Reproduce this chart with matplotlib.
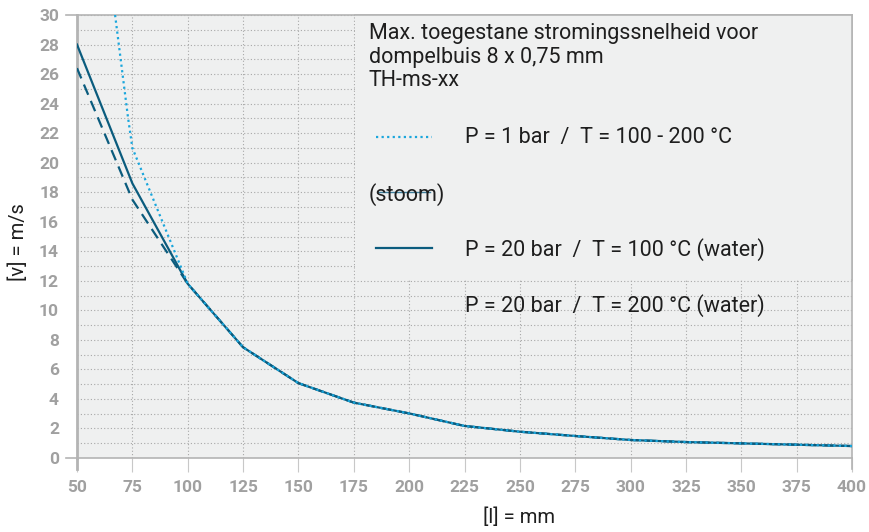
import matplotlib.pyplot as plt
from matplotlib.lines import Line2D
from matplotlib.patches import Rectangle

# lengte dompelbuis [mm]
lengte = [50, 75, 100, 125, 150, 175, 200, 225, 250, 275, 300, 325, 350, 375, 400]

# P = 20 bar / T = 100 °C (water)
v_water_100 = [28.0, 18.6, 11.8, 7.5, 5.07, 3.75, 3.02, 2.17, 1.78, 1.49, 1.22, 1.08, 0.99, 0.9, 0.81]

# P = 20 bar / T = 200 °C (water)
v_water_200 = [26.4, 17.5, 11.8, 7.5, 5.07, 3.75, 3.02, 2.17, 1.78, 1.49, 1.22, 1.08, 0.99, 0.9, 0.81]

# P = 1 bar / T = 100 - 200 °C (stoom)
lengte_stoom = [67.2, 73, 75, 100, 125, 150, 175, 200, 225, 250, 275, 300, 325, 350, 375, 400]
v_stoom = [30.0, 23.1, 21.0, 11.8, 7.5, 5.07, 3.75, 3.02, 2.17, 1.78, 1.49, 1.22, 1.08, 0.99, 0.9, 0.81]

titel = "Max. toegestane stromingssnelheid voor\ndompelbuis 8 x 0,75 mm\nTH-ms-xx"
labels = ["P = 1 bar  /  T = 100 - 200 °C",
          "P = 20 bar  /  T = 100 °C (water)",
          "P = 20 bar  /  T = 200 °C (water)"]

W, H = 870, 532
donker = "#0b5c7e"
licht = "#1aa6dc"
grijs = "#b4b4b4"
achtergrond = "#eff0f0"

plt.rcParams['font.family'] = ['Roboto', 'DejaVu Sans']

fig = plt.figure(figsize=(W / 100, H / 100), dpi=100)
ax = fig.add_axes([77 / W, (H - 458) / H, 775 / W, 443 / H])
ax.set_facecolor(achtergrond)

ax.plot(lengte, v_water_200, color=donker, lw=1.6, ls=(0, (5, 3)), zorder=3)
ax.plot(lengte, v_water_100, color=donker, lw=1.6, zorder=3)
ax.plot(lengte_stoom, v_stoom, color=licht, lw=1.6, ls=(0, (1, 1.5)), zorder=4)

ax.set_xlim(50, 400)
ax.set_ylim(0, 30)
ax.set_xticks(range(50, 401, 25))
ax.set_yticks(range(0, 31, 2))
ax.set_yticks(range(1, 30, 2), minor=True)
ax.grid(True, which='both', color='#a8a8a8', ls=(0, (1, 2)), lw=0.8)
ax.set_axisbelow(True)

for s in ['top', 'right', 'bottom', 'left']:
    ax.spines[s].set_color(grijs)
    ax.spines[s].set_linewidth(1.2)
ax.spines['left'].set_linewidth(2)

ax.tick_params(axis='x', length=10, width=0.8, color='#c8c8c8', pad=6,
               labelsize=12.5, labelcolor='#a0a0a0')
ax.tick_params(axis='y', which='both', length=0, pad=13,
               labelsize=12.5, labelcolor='#a0a0a0')
for lab in ax.get_xticklabels() + ax.get_yticklabels():
    lab.set_fontweight('bold')

# lijnen in pixelcoördinaten van de figuur
def px_lijn(x0, y0, x1, y1, **kw):
    fig.add_artist(Line2D([x0 / W, x1 / W], [1 - y0 / H, 1 - y1 / H],
                          transform=fig.transFigure, **kw))

px_lijn(66, 458, 77, 458, color=grijs, lw=1.2)
px_lijn(66, 15, 77, 15, color=grijs, lw=1.2)
px_lijn(77, 458, 77, 469, color=grijs, lw=2)
px_lijn(852, 458, 852, 469, color=grijs, lw=1.2)

# legendablok
box = Rectangle((355 / W, 1 - 279 / H), (852 - 355) / W, (279 - 15) / H,
                transform=fig.transFigure, facecolor=achtergrond,
                edgecolor='none', zorder=5)
fig.add_artist(box)
px_lijn(355, 15, 852, 15, color=grijs, lw=1.2, zorder=6)
px_lijn(852, 15, 852, 280, color=grijs, lw=1.2, zorder=6)

def px_tekst(x, y, s, **kw):
    fig.text(x / W, 1 - y / H, s, zorder=7, color='#1e1e1e', **kw)

px_tekst(369, 23, titel, fontsize=15.5, va='top', linespacing=1.17)
px_lijn(376, 137, 432, 137, color=licht, lw=1.6, ls=(0, (1, 1.5)), zorder=6)
px_tekst(465, 138, labels[0], fontsize=15.5, va='center')
px_lijn(378, 192, 430, 192, color='#3f7f9c', lw=1.0, zorder=6)
px_tekst(369, 195, "(stoom)", fontsize=15.5, va='center')
px_lijn(376, 248, 432, 248, color=donker, lw=1.6, zorder=6)
px_tekst(465, 250, labels[1], fontsize=15.5, va='center')
px_tekst(465, 306, labels[2], fontsize=15.5, va='center')

# aslabels
px_tekst(18, 242, "[v] = m/s", fontsize=14.5, rotation=90, ha='center', va='center')
px_tekst(519, 517, "[l] = mm", fontsize=14.5, ha='center', va='center')

fig.savefig("out.png", dpi=100)
